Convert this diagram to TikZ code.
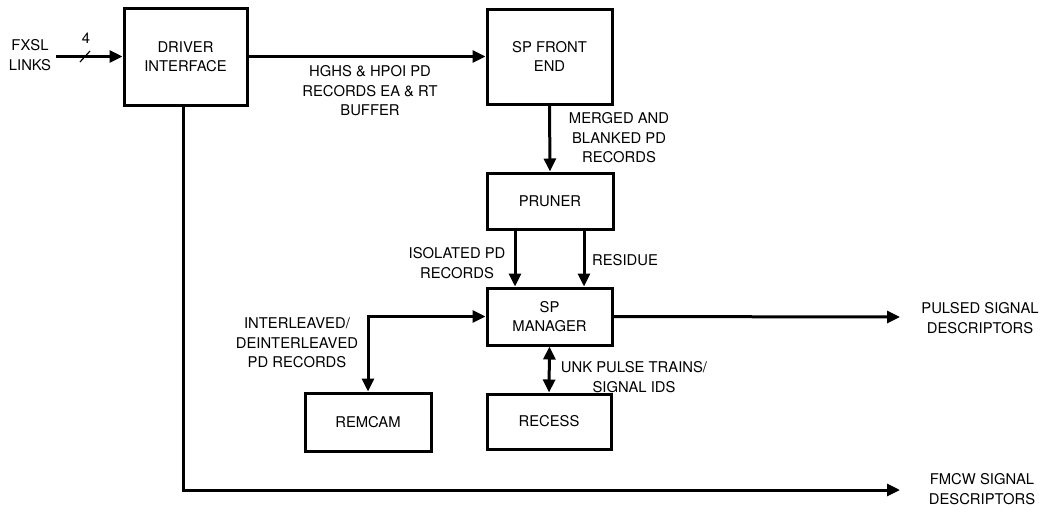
\documentclass[tikz,border=0pt]{standalone}
\usepackage{fontspec}
\setmainfont{TeX Gyre Heros}
\usetikzlibrary{arrows.meta}
\begin{document}
\begin{tikzpicture}[x=1pt,y=-1pt,
  line width=3pt,
  box/.style={draw,rectangle,inner sep=0pt,align=center},
  lbl/.style={align=center,inner sep=0pt,font=\fontsize{14.8}{19.5}\selectfont},
  arr/.style={-{Triangle[length=13pt,width=12pt]}},
  arrb/.style={{Triangle[length=13pt,width=12pt]}-{Triangle[length=13pt,width=12pt]}},
  every node/.style={font=\fontsize{14.8}{19.5}\selectfont}]
\useasboundingbox (0,0) rectangle (1048,512);
% boxes
\node[box,minimum width=123pt,minimum height=97pt] (drv) at (185.5,56.5) {DRIVER\\INTERFACE};
\node[box,minimum width=125pt,minimum height=95pt] (fe) at (549.5,56.5) {SP FRONT\\END};
\node[box,minimum width=126pt,minimum height=56pt] (pr) at (550,201) {PRUNER};
\node[box,minimum width=125pt,minimum height=57pt] (mgr) at (549.5,316.5) {SP\\MANAGER};
\node[box,minimum width=126pt,minimum height=58pt] (rem) at (368,422) {REMCAM};
\node[box,minimum width=124pt,minimum height=55pt] (rec) at (549,421.5) {RECESS};
% free ends
\coordinate (in) at (56,56.5);
\coordinate (pulsedend) at (900,317);
\coordinate (fmcwend) at (900,490);
\coordinate (sl1) at (80,62);
\coordinate (sl2) at (90,51);
% labels
\node[lbl] (fxsl) at (30,55) {FXSL\\LINKS};
\node[lbl] (four) at (86,38) {4};
\node[lbl] (hghs) at (370,91) {HGHS \& HPOI PD\\RECORDS EA \& RT\\BUFFER};
\node[lbl] (merged) at (619,138) {MERGED AND\\BLANKED PD\\RECORDS};
\node[lbl] (iso) at (457,263) {ISOLATED PD\\RECORDS};
\node[lbl] (res) at (625,260) {RESIDUE};
\node[lbl] (inter) at (297,343) {INTERLEAVED/\\DEINTERLEAVED\\PD RECORDS};
\node[lbl] (unk) at (634,377) {UNK PULSE TRAINS/\\SIGNAL IDS};
\node[lbl] (pulsed) at (980,318) {PULSED SIGNAL\\DESCRIPTORS};
\node[lbl] (fmcw) at (982,489) {FMCW SIGNAL\\DESCRIPTORS};
% connectors
\draw[arr] (in) -- (drv.west);
\draw[line width=1.2pt] (sl1) -- (sl2);
\draw[arr] (drv.east) -- (fe.west);
\draw[arr] (fe.south) -- (pr.north);
\draw[arr] ([xshift=-35pt]pr.south) -- ([xshift=-35pt]pr.south |- mgr.north);
\draw[arr] ([xshift=34pt]pr.south) -- ([xshift=34pt]pr.south |- mgr.north);
\draw[arrb] (rem.north) |- (mgr.west);
\draw[arrb] (mgr.south) -- (rec.north);
\draw[arr] (mgr.east) -- (pulsedend);
\draw[arr] ([xshift=-2.5pt]drv.south) |- (fmcwend);
\end{tikzpicture}
\end{document}
